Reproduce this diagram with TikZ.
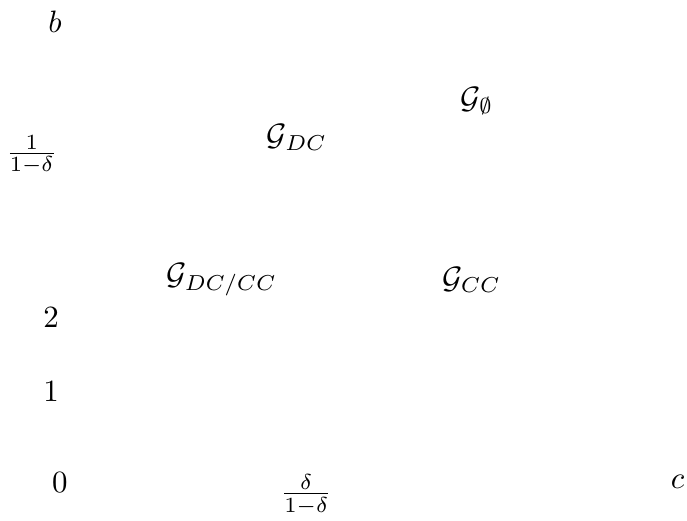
\documentclass[tikz,border=0pt]{standalone}
\usepackage{amsmath}
\usepackage{tikz}
\usetikzlibrary{positioning}
\tikzset{
  axislabel/.style={inner sep=1pt,font=\normalsize},
  regionlabel/.style={inner sep=1pt,font=\normalsize},
}

\begin{document}
\begin{tikzpicture}
        \useasboundingbox (0,0) rectangle (7.807,5.92);
        % axis labels
        \node[axislabel] (b) at (0.625,5.67) {$b$};
        \node[axislabel] (c) at (7.70,0.44) {$c$};
        \node[axislabel] (zero) at (0.68,0.44) {$0$};
        \node[axislabel] (one) at (0.58,1.47) {$1$};
        \node[axislabel] (two) at (0.58,2.31) {$2$};
        \node[axislabel] (ytick) at (0.36,4.16) {$\frac{1}{1-\delta}$};
        \node[axislabel] (xtick) at (3.48,0.30) {$\frac{\delta}{1-\delta}$};
        % regions
        \node[regionlabel] (gempty) at (5.42,4.77) {$\mathcal{G}_{\emptyset}$};
        \node[regionlabel] (gdc) at (3.375,4.36) {$\mathcal{G}_{DC}$};
        \node[regionlabel] (gdccc) at (2.52,2.74) {$\mathcal{G}_{DC/CC}$};
        \node[regionlabel] (gcc) at (5.36,2.74) {$\mathcal{G}_{CC}$};
      \end{tikzpicture}
\end{document}
